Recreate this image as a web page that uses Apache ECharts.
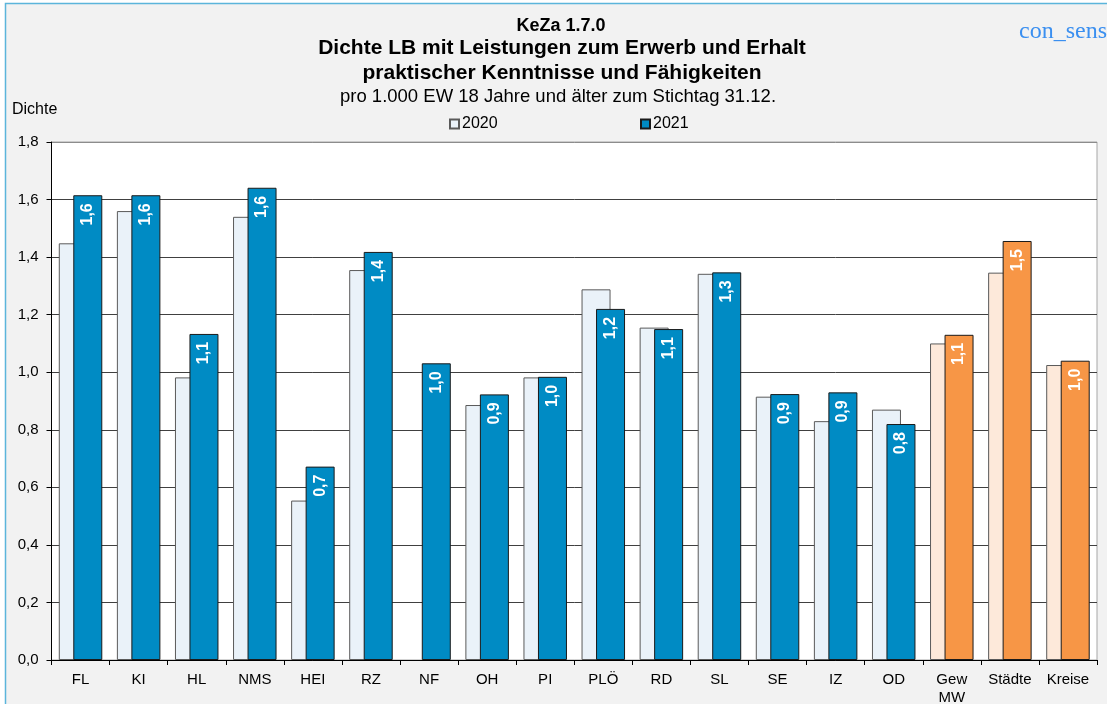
<!DOCTYPE html>
<html>
<head>
<meta charset="utf-8">
<script src="https://cdn.jsdelivr.net/npm/echarts@6/dist/echarts.min.js"></script>
<style>
html,body{margin:0;padding:0;background:#fff;}
#chart{width:1107px;height:704px;}
</style>
</head>
<body>
<div id="chart"></div>
<script>
// ---- data ----
const categories = ['FL','KI','HL','NMS','HEI','RZ','NF','OH','PI','PLÖ','RD','SL','SE','IZ','OD','Gew\nMW','Städte','Kreise'];
const values2020 = [1.448,1.560,0.982,1.540,0.554,1.355,null,0.886,0.982,1.288,1.155,1.342,0.915,0.830,0.870,1.100,1.346,1.025];
const values2021 = [1.615,1.615,1.133,1.641,0.672,1.418,1.031,0.923,0.984,1.220,1.150,1.347,0.924,0.930,0.820,1.130,1.456,1.040];
const summaryCount = 3; // last 3 categories are summary bars (orange)
const yTicks = ['0,0','0,2','0,4','0,6','0,8','1,0','1,2','1,4','1,6','1,8'];

const C20 = '#EAF2F9', C21 = '#008BC4', O20 = '#FDE9DA', O21 = '#F79646';
const n = categories.length;
const d20 = values2020.map((v,i)=>({value:v, itemStyle:{color: i>=n-summaryCount?O20:C20}}));
const d21 = values2021.map((v,i)=>({value:v, itemStyle:{color: i>=n-summaryCount?O21:C21}}));
const fmt = v => v.toFixed(1).replace('.', ',');
const gridColors = ['#404040','#404040','#404040','#404040','#404040','#404040','#404040','#404040','#404040','#8c8c8c'];

const chart = echarts.init(document.getElementById('chart'));
chart.setOption({
  backgroundColor:'#ffffff',
  animation:false,
  textStyle:{fontFamily:'Liberation Sans, Arial, sans-serif'},
  graphic:[{
    type:'rect', z:-10, silent:true,
    shape:{x:5.5, y:3.5, width:1200, height:800},
    style:{fill:'#F2F2F2', stroke:'#5BB5DB', lineWidth:1.5}
  }],
  title:[
    {text:'KeZa 1.7.0', left:561, top:17, textAlign:'center', padding:0,
     textStyle:{fontSize:18, fontWeight:'bold', color:'#000', fontFamily:'Liberation Sans'}},
    {text:'Dichte LB mit Leistungen zum Erwerb und Erhalt\npraktischer Kenntnisse und Fähigkeiten', left:562, top:35.5, textAlign:'center', padding:0,
     textStyle:{fontSize:21, fontWeight:'bold', lineHeight:25, color:'#000', fontFamily:'Liberation Sans'}},
    {text:'pro 1.000 EW 18 Jahre und älter zum Stichtag 31.12.', left:558, top:87.5, textAlign:'center', padding:0,
     textStyle:{fontSize:18.5, fontWeight:'normal', color:'#000', fontFamily:'Liberation Sans'}},
    {text:'Dichte', left:12, top:102, padding:0,
     textStyle:{fontSize:16, fontWeight:'normal', color:'#000', fontFamily:'Liberation Sans'}},
    {text:'con_sens', left:1019, top:20, padding:0,
     textStyle:{fontSize:24, fontWeight:'normal', color:'#3A8FF0', fontFamily:'Liberation Serif'}}
  ],
  legend:[
    {data:['2020'], left:449, top:116, padding:0, itemWidth:9, itemHeight:9, itemGap:4, icon:'rect',
     textStyle:{fontSize:16, color:'#000', padding:[0,0,0,-2]}},
    {data:['2021'], left:640, top:116, padding:0, itemWidth:9, itemHeight:9, itemGap:4, icon:'rect',
     textStyle:{fontSize:16, color:'#000', padding:[0,0,0,-2]}}
  ],
  grid:{left:51.5, right:10, top:142, bottom:44, outerBoundsMode:'none', containLabel:false,
        show:true, backgroundColor:'#ffffff', borderColor:'#a6a6a6', borderWidth:1},
  xAxis:{
    type:'category', data:categories,
    axisLine:{show:true, lineStyle:{color:'#000', width:1}},
    axisTick:{show:true, length:5, lineStyle:{color:'#000'}},
    axisLabel:{fontSize:15, color:'#000', margin:11, lineHeight:18, interval:0}
  },
  yAxis:{
    type:'value', min:0, max:1.8, interval:0.2,
    axisLine:{show:true, lineStyle:{color:'#000', width:1}},
    axisTick:{show:true, length:5, lineStyle:{color:'#000'}},
    axisLabel:{fontSize:15, color:'#000', margin:13, formatter:(v)=>yTicks[Math.round(v/0.2)]},
    splitLine:{show:true, lineStyle:{color:gridColors, width:1}}
  },
  series:[
    {name:'2020', type:'bar', data:d20, barWidth:29, barGap:'-50%',
     itemStyle:{color:C20, borderColor:'#5a5a5a', borderWidth:1}},
    {name:'2021', type:'bar', data:d21, barWidth:29,
     itemStyle:{color:C21, borderColor:'#1a1a1a', borderWidth:1},
     label:{show:true, position:'insideTop', rotate:90, align:'right', verticalAlign:'middle', distance:8,
       color:'#fff', fontSize:16, fontWeight:'bold', fontFamily:'Liberation Sans',
       formatter:(p)=>fmt(p.value)}}
  ]
});
</script>
</body>
</html>
